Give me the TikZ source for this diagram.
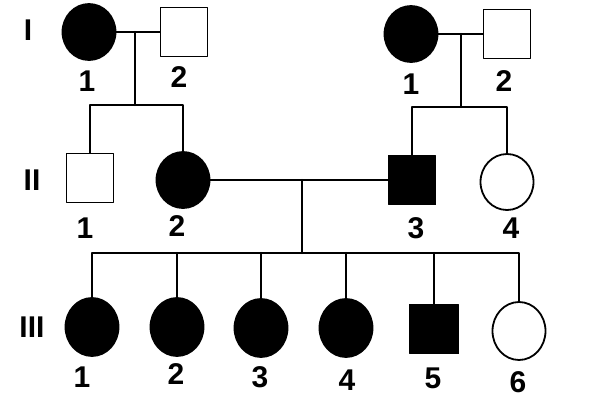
\documentclass[tikz,border=0pt]{standalone}
\usepackage{fontspec}
\setmainfont{Liberation Sans}
\usetikzlibrary{shapes.geometric}

\begin{document}
\begin{tikzpicture}[x=1pt,y=-1pt,line cap=round,line join=round,
  female/.style={ellipse,draw,line width=1.8pt,minimum width=53pt,minimum height=56pt,inner sep=0pt},
  male/.style={rectangle,draw,line width=1.8pt,minimum width=47pt,minimum height=49pt,inner sep=0pt},
  ill/.style={fill=black},
  num/.style={font=\fontsize{30}{30}\selectfont\bfseries,inner sep=0pt},
  link/.style={line width=2.2pt}]
\useasboundingbox (0,0) rectangle (600,400);
% generations
\node[num] (gI) at (28,30) {I};
\node[num] (gII) at (32,180) {II};
\node[num] (gIII) at (32,327) {III};
% generation I
\node[female,ill] (I1) at (89,32) {};
\node[male] (I2) at (184,32) {};
\node[female,ill] (Ir1) at (411,34) {};
\node[male] (Ir2) at (507,34) {};
\node[num] (nI1) at (87,81) {1};
\node[num] (nI2) at (179,77) {2};
\node[num] (nIr1) at (411,84) {1};
\node[num] (nIr2) at (504,81) {2};
% generation II
\node[male] (II1) at (90,178) {};
\node[female,ill] (II2) at (183,180) {};
\node[male,ill] (II3) at (412,180) {};
\node[female] (II4) at (507,182) {};
\node[num] (nII1) at (85,228) {1};
\node[num] (nII2) at (177,226) {2};
\node[num] (nII3) at (416,228) {3};
\node[num] (nII4) at (511,228) {4};
% generation III
\node[female,ill,minimum height=58pt] (III1) at (92,327) {};
\node[female,ill,minimum height=58pt] (III2) at (177,327) {};
\node[female,ill,minimum height=58pt] (III3) at (261,328) {};
\node[female,ill,minimum height=58pt] (III4) at (346,328) {};
\node[male,ill,minimum width=49pt] (III5) at (434,329) {};
\node[female,minimum height=58pt] (III6) at (519,331) {};
\node[num] (nIII1) at (82,377) {1};
\node[num] (nIII2) at (176,374) {2};
\node[num] (nIII3) at (260,377) {3};
\node[num] (nIII4) at (347,380) {4};
\node[num] (nIII5) at (433,378) {5};
\node[num] (nIII6) at (518,382) {6};
% marriages and descent lines
\coordinate (mI) at (135,32);
\coordinate (sI) at (135,105);
\coordinate (mIr) at (461,34);
\coordinate (sIr) at (461,107);
\coordinate (mII) at (302,180);
\coordinate (sII) at (302,253);
\draw[link] (I1) -- (I2);
\draw[link] (mI) -- (sI);
\draw[link] (II1.north) |- (sI) -| (II2.north);
\draw[link] (Ir1) -- (Ir2);
\draw[link] (mIr) -- (sIr);
\draw[link] (II3.north) |- (sIr) -| (II4.north);
\draw[link] (II2) -- (II3);
\draw[link] (mII) -- (sII);
\draw[link] (III1.north) |- (sII) -| (III6.north);
\foreach \k in {2,...,5}
  \draw[link] (III\k.north) -- (III\k.north |- sII);
\end{tikzpicture}
\end{document}
